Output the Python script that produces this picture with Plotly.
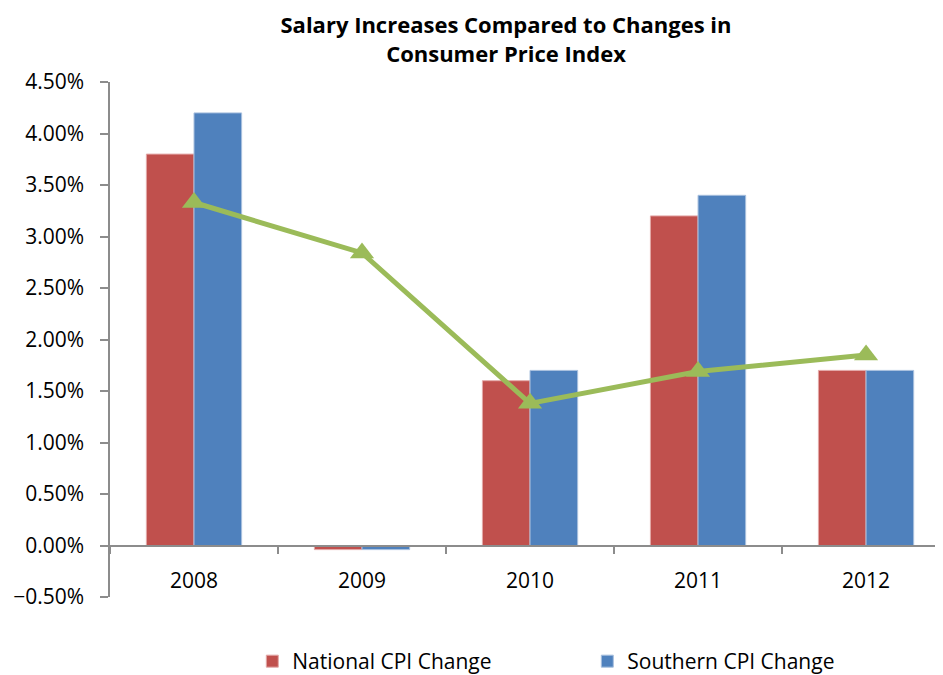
import plotly.graph_objects as go

years = ["2008", "2009", "2010", "2011", "2012"]
national_cpi = [0.038, -0.0004, 0.016, 0.032, 0.017]
southern_cpi = [0.042, -0.0004, 0.017, 0.034, 0.017]
salary_increase = [0.0333, 0.0284, 0.0138, 0.0169, 0.0185]
y_ticks = [-0.005, 0.0, 0.005, 0.01, 0.015, 0.02, 0.025, 0.03, 0.035, 0.04, 0.045]

FONT = "Open Sans"
AXIS_COLOR = "#8c8c8c"
W, H = 935, 667  # page body adds an 8px margin

fig = go.Figure()
fig.add_trace(go.Bar(
    x=years, y=national_cpi, name="National CPI Change",
    marker=dict(color="#C0504D", line=dict(color="#e3a9a8", width=1)),
))
fig.add_trace(go.Bar(
    x=years, y=southern_cpi, name="Southern CPI Change",
    marker=dict(color="#4F81BD", line=dict(color="#a9c0de", width=1)),
))
fig.add_trace(go.Scatter(
    x=years, y=salary_increase, name="Salary Increase", mode="lines+markers",
    line=dict(color="#9BBB59", width=5),
    marker=dict(symbol="triangle-up", size=21, color="#9BBB59"),
    showlegend=False,
))

fig.update_layout(
    width=W, height=H,
    paper_bgcolor="white", plot_bgcolor="white",
    margin=dict(l=102, r=0, t=74, b=78),
    barmode="group", bargap=0.433, bargroupgap=0,
    font=dict(family=FONT, size=21, color="#000000"),
    title=dict(
        text="<b>Salary Increases Compared to Changes in<br>Consumer Price Index</b>",
        xref="container", x=498 / W, xanchor="center",
        yref="container", y=1 - 25 / H, yanchor="top",
        font=dict(family=FONT, size=22, color="#000000"),
    ),
    legend=dict(
        orientation="h", x=0.573, xanchor="center",
        yref="container", y=1 - 633 / H, yanchor="top",
        font=dict(family=FONT, size=21), traceorder="normal",
        entrywidth=290,
    ),
    xaxis=dict(
        type="category", range=[-0.5, 4.458],
        anchor="free", position=0.1, automargin=False,
        showline=True, linecolor=AXIS_COLOR, linewidth=1.5,
        ticks="outside", tickson="boundaries", ticklen=8, tickcolor=AXIS_COLOR, tickwidth=1.5,
        ticklabelposition="outside", ticklabelstandoff=17,
        showgrid=False, zeroline=False,
        tickfont=dict(family=FONT, size=21),
    ),
    yaxis=dict(
        range=[-0.005, 0.045], tickvals=y_ticks, tickformat=".2%",
        automargin=False,
        showline=True, linecolor=AXIS_COLOR, linewidth=1.5,
        ticks="outside", ticklen=8, tickcolor=AXIS_COLOR, tickwidth=1.5,
        ticklabelposition="outside", ticklabelstandoff=12,
        showgrid=False, zeroline=False,
        tickfont=dict(family=FONT, size=21),
    ),
)

fig.write_html("out.html")
